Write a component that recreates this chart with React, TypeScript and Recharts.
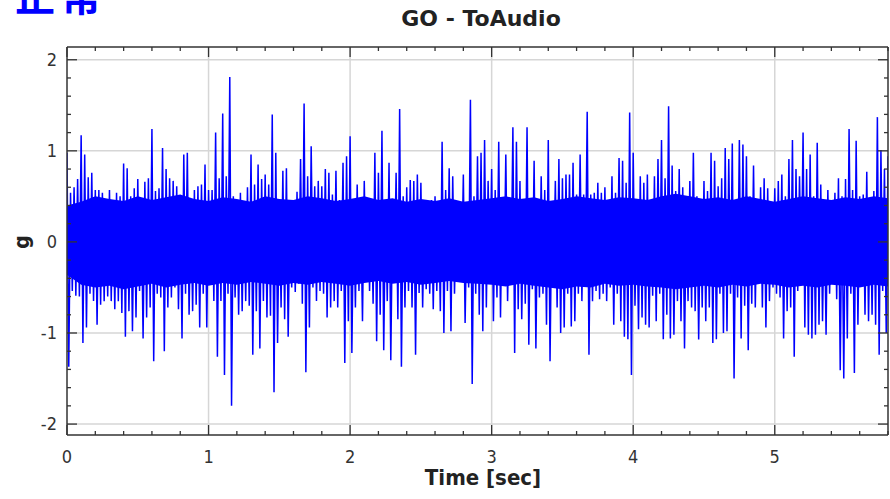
import React from 'react';
import { ComposedChart, Line, Area, XAxis, YAxis, CartesianGrid } from 'recharts';

// one upper and one lower peak per 0.025 s
const sampleStep = 0.025;

const upperPeaks = [
  0.98, 0.54, 0.6, 0.69, 1.17, 0.96, 0.71, 0.76, 0.57, 0.57,
  0.54, 0.42, 0.57, 0.43, 0.54, 0.5, 0.86, 0.81, 0.5, 0.59,
  0.69, 0.4, 0.66, 0.7, 1.24, 0.56, 0.59, 1.03, 0.8, 0.7,
  0.67, 0.61, 0.46, 0.96, 0.98, 0.43, 0.57, 0.61, 0.63, 0.85,
  0.57, 0.57, 1.2, 0.7, 1.41, 0.72, 1.81, 0.5, 0.46, 0.54,
  0.43, 0.6, 0.96, 0.63, 0.85, 0.69, 0.74, 0.63, 1.4, 0.98,
  0.43, 0.78, 0.81, 0.39, 0.43, 0.55, 0.91, 1.52, 0.72, 1.05,
  0.61, 0.67, 0.61, 0.8, 0.76, 0.52, 0.78, 0.46, 0.87, 0.94,
  1.16, 0.43, 0.63, 0.37, 0.67, 0.46, 0.35, 0.98, 0.76, 1.22,
  0.39, 0.87, 0.39, 0.76, 1.46, 0.5, 0.6, 0.68, 0.67, 0.74,
  0.65, 0.31, 0.43, 0.46, 0.5, 0.39, 1.1, 0.57, 0.81, 0.72,
  0.3, 0.43, 0.74, 0.28, 1.56, 0.5, 0.94, 0.98, 1.12, 0.67,
  0.8, 0.57, 1.1, 0.46, 0.96, 0.3, 1.26, 1.1, 0.67, 0.46,
  1.26, 0.46, 0.89, 0.44, 0.72, 0.57, 1.12, 0.43, 0.67, 0.91,
  0.7, 0.74, 0.74, 0.87, 0.52, 0.96, 0.52, 1.43, 0.52, 0.54,
  0.65, 0.54, 0.6, 0.35, 0.72, 0.54, 0.92, 0.89, 0.65, 1.42,
  0.98, 0.43, 0.72, 0.65, 0.74, 0.43, 0.72, 0.91, 1.12, 0.7,
  1.49, 0.84, 0.56, 0.8, 0.6, 0.33, 0.67, 0.98, 0.5, 0.41,
  0.67, 0.56, 0.98, 0.89, 0.61, 0.7, 1.03, 0.91, 1.08, 0.43,
  1.12, 1.07, 0.94, 0.5, 0.84, 0.46, 0.6, 0.7, 0.59, 0.3,
  0.59, 0.67, 0.74, 0.5, 0.91, 1.12, 0.8, 0.72, 1.2, 0.8,
  0.96, 0.5, 1.09, 0.63, 0.39, 0.57, 0.33, 0.54, 0.7, 0.5,
  0.69, 1.24, 0.57, 1.11, 0.5, 0.52, 0.77, 0.46, 0.56, 1.37,
  1.01, 0.8, 0.94,
];

const lowerPeaks = [
  -1.37, -0.54, -0.59, -0.6, -1.11, -0.94, -0.57, -0.65, -0.91, -0.69,
  -0.65, -0.6, -0.65, -0.74, -0.65, -0.78, -1.04, -0.76, -0.98, -0.83,
  -0.54, -1.06, -0.83, -0.72, -1.31, -0.57, -0.61, -1.2, -0.72, -0.61,
  -0.5, -0.74, -1.06, -0.57, -0.8, -0.76, -0.69, -0.94, -0.57, -0.94,
  -0.43, -0.65, -1.26, -0.65, -1.46, -0.57, -1.8, -0.61, -0.8, -0.76,
  -0.65, -0.7, -1.24, -0.76, -1.17, -0.65, -0.83, -0.81, -1.65, -1.11,
  -0.72, -0.85, -1.04, -0.5, -0.55, -0.46, -0.68, -1.43, -0.94, -0.5,
  -0.65, -0.54, -0.57, -0.83, -0.72, -0.65, -0.72, -0.54, -1.33, -0.87,
  -1.22, -0.72, -0.54, -0.87, -0.43, -0.54, -0.68, -1.09, -0.8, -1.19,
  -0.65, -1.3, -0.39, -0.85, -1.37, -0.72, -0.54, -0.72, -1.24, -0.56,
  -0.72, -0.52, -0.57, -0.74, -0.54, -0.76, -1.0, -0.54, -0.98, -0.57,
  -0.44, -0.39, -0.89, -0.5, -1.56, -0.57, -0.8, -0.98, -0.72, -0.46,
  -0.87, -0.61, -0.83, -0.46, -0.65, -0.43, -1.22, -0.74, -0.85, -0.68,
  -1.13, -0.52, -1.17, -0.61, -0.57, -0.91, -1.31, -0.39, -0.72, -1.0,
  -0.94, -0.57, -0.93, -0.87, -0.57, -0.65, -0.39, -1.24, -0.65, -0.54,
  -0.63, -0.57, -0.65, -0.5, -0.91, -0.57, -0.87, -1.04, -1.07, -1.46,
  -0.7, -0.96, -0.83, -0.91, -0.94, -0.59, -0.87, -0.57, -1.07, -0.8,
  -1.06, -1.02, -0.65, -0.87, -1.17, -0.65, -0.72, -0.76, -1.07, -0.72,
  -0.87, -0.72, -1.11, -1.07, -0.57, -1.0, -0.98, -0.57, -1.5, -0.61,
  -1.06, -0.7, -1.19, -0.68, -0.72, -0.44, -0.72, -0.94, -0.65, -0.5,
  -0.57, -0.61, -1.06, -0.76, -0.72, -1.26, -0.54, -0.44, -0.94, -1.02,
  -1.06, -1.02, -0.91, -0.87, -1.02, -0.57, -0.44, -0.63, -1.41, -1.5,
  -1.06, -0.57, -1.44, -0.91, -0.46, -0.8, -0.87, -0.8, -0.91, -1.24,
  -0.54, -1.0, -0.57,
];

// edge of the solid blue core, every 0.1 s
const coreStep = 0.1;
const coreUpper = [
  0.4, 0.44, 0.5, 0.47, 0.45, 0.5, 0.46, 0.49, 0.52, 0.47,
  0.45, 0.49, 0.47, 0.44, 0.5, 0.47, 0.46, 0.5, 0.48, 0.45,
  0.47, 0.5, 0.46, 0.48, 0.44, 0.47, 0.45, 0.48, 0.44, 0.46,
  0.48, 0.5, 0.47, 0.49, 0.45, 0.47, 0.5, 0.48, 0.46, 0.49,
  0.48, 0.46, 0.5, 0.53, 0.5, 0.47, 0.49, 0.46, 0.5, 0.47,
  0.44, 0.47, 0.5, 0.48, 0.46, 0.49, 0.47, 0.5, 0.48,
];
const coreLower = [
  -0.36, -0.47, -0.5, -0.48, -0.52, -0.49, -0.46, -0.5, -0.47, -0.45,
  -0.48, -0.45, -0.47, -0.44, -0.46, -0.48, -0.45, -0.47, -0.44, -0.46,
  -0.48, -0.45, -0.43, -0.46, -0.44, -0.47, -0.45, -0.43, -0.45, -0.46,
  -0.47, -0.49, -0.46, -0.48, -0.5, -0.52, -0.49, -0.5, -0.46, -0.48,
  -0.47, -0.49, -0.5, -0.52, -0.5, -0.48, -0.5, -0.47, -0.49, -0.46,
  -0.47, -0.5, -0.48, -0.5, -0.47, -0.48, -0.5, -0.47, -0.49,
];

const xGrid = [1, 2, 3, 4, 5];
const yGrid = [-2, -1, 0, 1, 2];
const xTicks = Array.from({ length: 30 }, (_, k) => Math.round(k * 2) / 10);
const yTicks = Array.from({ length: 21 }, (_, k) => Math.round(k * 2 - 20) / 10);

const data = upperPeaks.flatMap((hi, i) => [
  { t: i * sampleStep, g: hi },
  { t: i * sampleStep + sampleStep / 2, g: lowerPeaks[i] },
]);
const coreData = coreUpper.map((hi, i) => ({ t: i * coreStep, band: [coreLower[i], hi] }));

const AXIS = '#333';
const tickFont = '"Liberation Sans Narrow", "DejaVu Sans Condensed", sans-serif';
const labelFont = '"DejaVu Sans Condensed", "Liberation Sans Narrow", sans-serif';
const isMajor = (v: number) => Math.abs(v - Math.round(v)) < 1e-6;

const BottomTick = ({ x, y, payload }: any) => {
  const major = isMajor(payload.value);
  return (
    <g>
      <line x1={x} y1={y} x2={x} y2={y - (major ? 10 : 4)} stroke={AXIS} strokeWidth={1.3} />
      {major && (
        <text x={x} y={y + 28} textAnchor="middle" fontSize={18} fontFamily={tickFont} fill="#333">
          {Math.round(payload.value)}
        </text>
      )}
    </g>
  );
};

const TopTick = ({ x, y, payload }: any) => (
  <line x1={x} y1={y} x2={x} y2={y + (isMajor(payload.value) ? 10 : 4)} stroke={AXIS} strokeWidth={1.3} />
);

const LeftTick = ({ x, y, payload }: any) => {
  const major = isMajor(payload.value);
  return (
    <g>
      <line x1={x} y1={y} x2={x + (major ? 10 : 4)} y2={y} stroke={AXIS} strokeWidth={1.3} />
      {major && (
        <text x={x - 10} y={y + 6} textAnchor="end" fontSize={18} fontFamily={tickFont} fill="#333">
          {Math.round(payload.value)}
        </text>
      )}
    </g>
  );
};

const RightTick = ({ x, y, payload }: any) => (
  <line x1={x} y1={y} x2={x - (isMajor(payload.value) ? 10 : 4)} y2={y} stroke={AXIS} strokeWidth={1.3} />
);

const App: React.FC = () => {
  return (
    <div style={{ position: 'absolute', left: 0, top: 0, width: 890, height: 499, overflow: 'hidden', background: '#fff' }}>
      <ComposedChart width={890} height={499} data={data} margin={{ top: 17, right: 1, bottom: 34, left: 17 }}>
        <CartesianGrid
          xAxisId="b"
          yAxisId="l"
          verticalValues={xGrid}
          horizontalValues={yGrid}
          stroke="#d6d6d6"
          strokeWidth={1.5}
          strokeDasharray="0"
        />
        <XAxis
          xAxisId="b"
          dataKey="t"
          type="number"
          domain={[0, 5.8]}
          allowDataOverflow
          ticks={xTicks}
          interval={0}
          height={30}
          tickLine={false}
          tickSize={0}
          tickMargin={0}
          tick={<BottomTick />}
          axisLine={{ stroke: AXIS, strokeWidth: 1.5 }}
        />
        <XAxis
          xAxisId="t"
          orientation="top"
          dataKey="t"
          type="number"
          domain={[0, 5.8]}
          allowDataOverflow
          ticks={xTicks}
          interval={0}
          height={30}
          tickLine={false}
          tickSize={0}
          tickMargin={0}
          tick={<TopTick />}
          axisLine={{ stroke: AXIS, strokeWidth: 1.5 }}
        />
        <YAxis
          yAxisId="l"
          type="number"
          domain={[-2.12, 2.14]}
          allowDataOverflow
          ticks={yTicks}
          interval={0}
          width={50}
          tickLine={false}
          tickSize={0}
          tickMargin={0}
          tick={<LeftTick />}
          axisLine={{ stroke: AXIS, strokeWidth: 1.5 }}
        />
        <YAxis
          yAxisId="r"
          orientation="right"
          type="number"
          domain={[-2.12, 2.14]}
          allowDataOverflow
          ticks={yTicks}
          interval={0}
          width={1}
          tickLine={false}
          tickSize={0}
          tickMargin={0}
          tick={<RightTick />}
          axisLine={{ stroke: AXIS, strokeWidth: 1.5 }}
        />
        <Line
          xAxisId="t"
          yAxisId="r"
          dataKey="g"
          stroke="none"
          dot={false}
          activeDot={false}
          isAnimationActive={false}
        />
        <Area
          xAxisId="b"
          yAxisId="l"
          data={coreData}
          dataKey="band"
          type="linear"
          fill="#0000ff"
          fillOpacity={1}
          stroke="none"
          dot={false}
          activeDot={false}
          isAnimationActive={false}
        />
        <Line
          xAxisId="b"
          yAxisId="l"
          type="linear"
          dataKey="g"
          stroke="#0000ff"
          strokeWidth={1.5}
          dot={false}
          activeDot={false}
          isAnimationActive={false}
        />
      </ComposedChart>

      <div style={{ position: 'absolute', left: 15, top: -30, fontFamily: '"Noto Sans CJK SC", sans-serif', fontWeight: 700, fontSize: 40, color: '#0000ff', lineHeight: '48px', letterSpacing: 6 }}>
        正常
      </div>
      <div style={{ position: 'absolute', left: 0, width: 962, top: 6, textAlign: 'center', fontFamily: '"DejaVu Sans", sans-serif', fontWeight: 700, fontSize: 22, color: '#222' }}>
        GO - ToAudio
      </div>
      <div style={{ position: 'absolute', left: 0, width: 966, top: 465, textAlign: 'center', fontFamily: labelFont, fontWeight: 700, fontSize: 22, color: '#222' }}>
        Time [sec]
      </div>
      <div style={{ position: 'absolute', left: 22, top: 242, transform: 'translate(-50%, -50%) rotate(-90deg)', fontFamily: labelFont, fontWeight: 700, fontSize: 21, color: '#222', lineHeight: '24px' }}>
        g
      </div>
    </div>
  );
};

export default App;
